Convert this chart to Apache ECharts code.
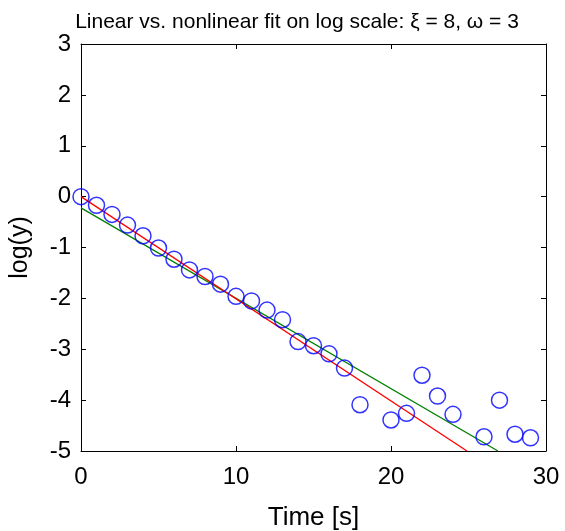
<!DOCTYPE html>
<html><head><meta charset="utf-8">
<script src="https://cdn.jsdelivr.net/npm/echarts@6/dist/echarts.min.js"></script>
<style>html,body{margin:0;padding:0;background:#fff}#c{width:565px;height:531px}</style>
</head><body><div id="c"></div>
<script>
const times = [0,1,2,3,4,5,6,7,8,9,10,11,12,13,14,15,16,17,18,20,21,22,23,24,26,27,28,29];
const logY = [0,-0.17,-0.35,-0.56,-0.77,-1.01,-1.23,-1.44,-1.57,-1.72,-1.96,-2.05,-2.23,-2.42,-2.85,-2.93,-3.09,-3.37,-4.09,-4.39,-4.26,-3.51,-3.92,-4.28,-4.72,-4.00,-4.67,-4.74];
const linearFit = [[0,-0.22],[26.9,-5]];
const nonlinearFit = [[0,0],[24.9,-5]];
const xTicks = [0,10,20,30];
const yTicks = [-5,-4,-3,-2,-1,0,1,2,3];

const font = 'Liberation Sans, Arial, Helvetica, sans-serif';
const chart = echarts.init(document.getElementById('c'));
const axisCommon = {
  axisLine:{show:true,onZero:false,lineStyle:{color:'#000',width:1}},
  axisTick:{show:true,inside:true,length:5,lineStyle:{color:'#000'}},
  splitLine:{show:false}
};
chart.setOption({
  animation:false,
  title:{text:'Linear vs. nonlinear fit on log scale: \u03BE = 8, \u03C9 = 3',left:292,textAlign:'center',top:7,
    textStyle:{fontFamily:font,fontSize:21,fontWeight:'normal',color:'#000'}},
  grid:{left:81,right:19,top:44,bottom:80,containLabel:false,outerBoundsMode:'none'},
  xAxis:[
    Object.assign({type:'value',min:xTicks[0],max:xTicks[xTicks.length-1],interval:10,position:'bottom',
      name:'Time [s]',nameLocation:'middle',nameGap:54,
      nameTextStyle:{fontFamily:font,fontSize:26,color:'#000'},
      axisLabel:{fontFamily:font,fontSize:24,color:'#000',margin:14}},axisCommon),
    Object.assign({type:'value',min:xTicks[0],max:xTicks[xTicks.length-1],interval:10,position:'top',
      axisLabel:{show:false}},axisCommon)
  ],
  yAxis:[
    Object.assign({type:'value',min:yTicks[0],max:yTicks[yTicks.length-1],interval:1,position:'left',
      name:'log(y)',nameLocation:'middle',nameGap:48,nameRotate:90,
      nameTextStyle:{fontFamily:font,fontSize:25,color:'#000'},
      axisLabel:{fontFamily:font,fontSize:24,color:'#000',margin:10}},axisCommon),
    Object.assign({type:'value',min:yTicks[0],max:yTicks[yTicks.length-1],interval:1,position:'right',
      axisLabel:{show:false}},axisCommon)
  ],
  series:[
    {type:'line',data:linearFit,symbol:'none',lineStyle:{color:'#008000',width:1.3},z:2},
    {type:'line',data:nonlinearFit,symbol:'none',lineStyle:{color:'#ff0000',width:1.3},z:3},
    {type:'scatter',data:times.map((t,i)=>[t,logY[i]]),symbol:'circle',symbolSize:16,
      itemStyle:{color:'rgba(0,0,0,0)',borderColor:'#0000ff',borderWidth:1.5},z:4}
  ]
});
</script></body></html>
